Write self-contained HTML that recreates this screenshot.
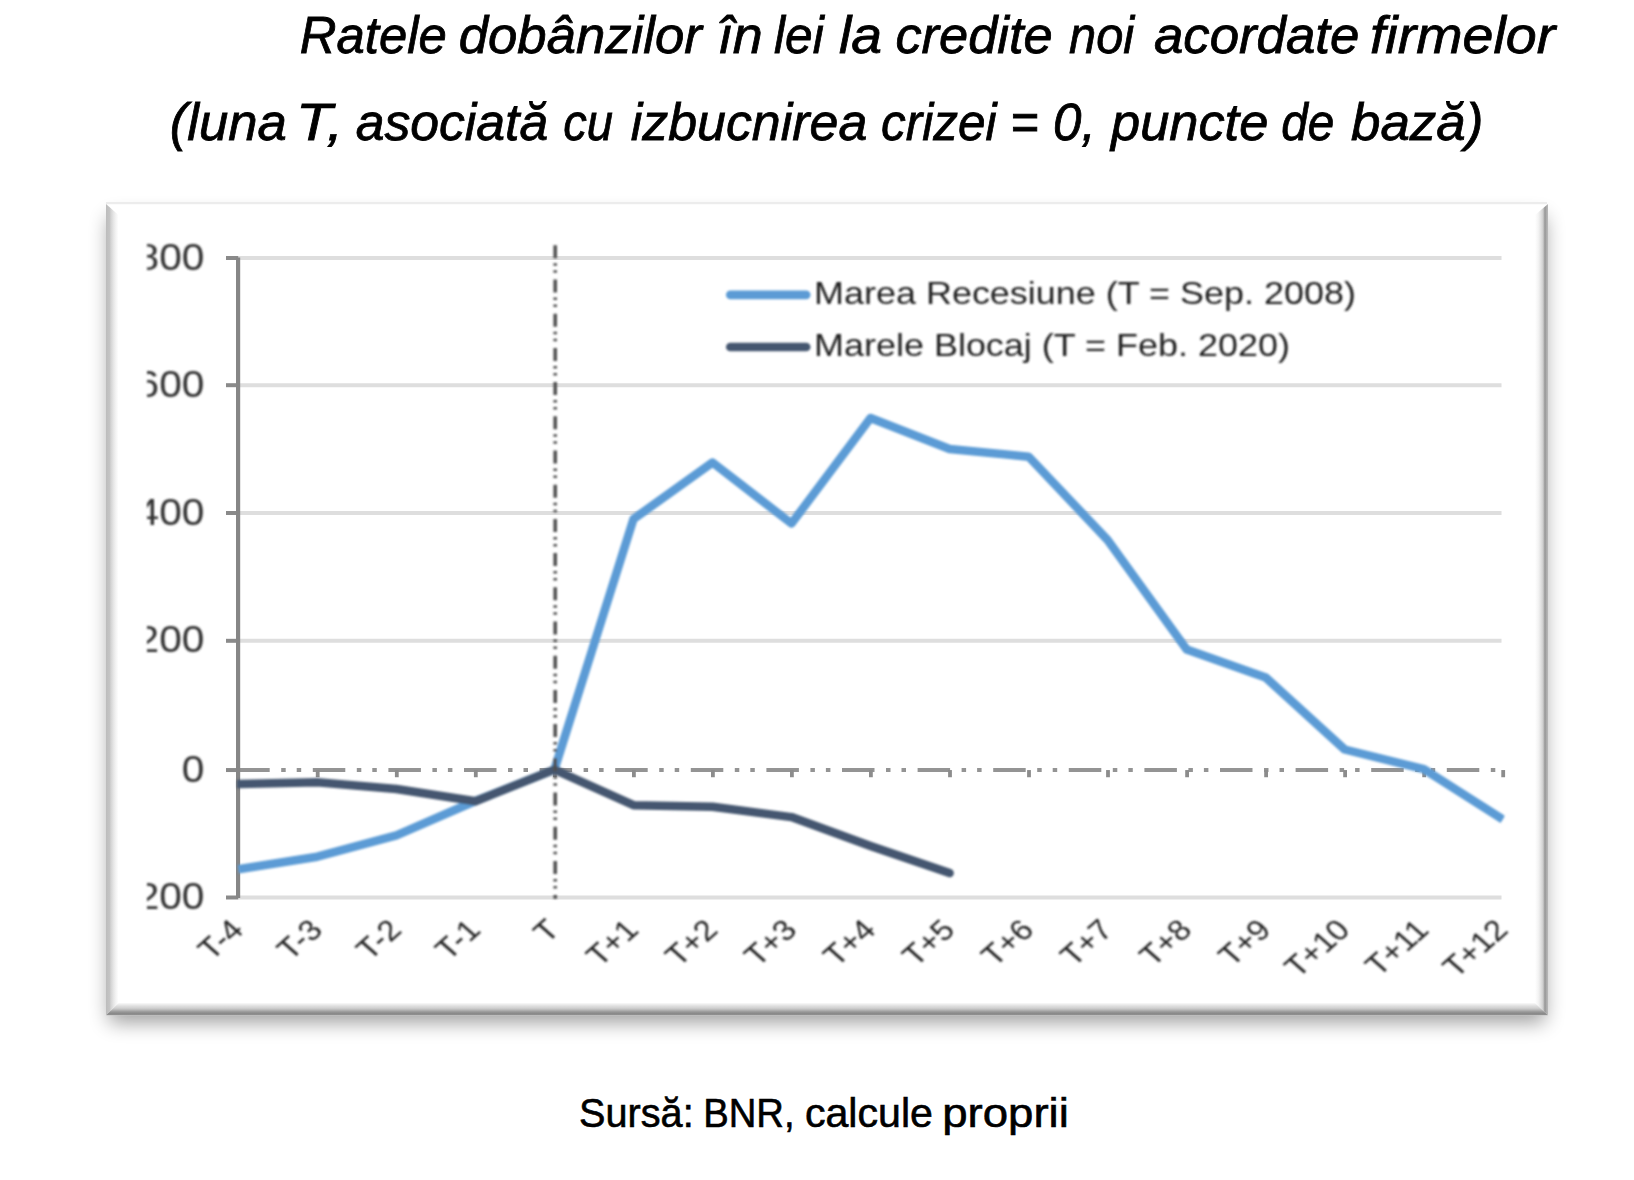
<!DOCTYPE html>
<html lang="ro">
<head>
<meta charset="utf-8">
<title>Ratele dobânzilor în lei la credite noi acordate firmelor</title>
<style>
html,body{margin:0;padding:0;background:#fff;}
body{width:1634px;height:1180px;overflow:hidden;position:relative;}
svg{position:absolute;left:0;top:0;display:block;}
.ttl{font-family:"Liberation Sans",sans-serif;font-style:italic;font-size:52.5px;fill:#000;stroke:#000;stroke-width:0.8px;}
.src{font-family:"Liberation Sans",sans-serif;font-size:40.4px;fill:#000;stroke:#000;stroke-width:0.6px;}
.ch{font-family:"Liberation Sans",sans-serif;}
</style>
</head>
<body>
<svg width="1634" height="1180" viewBox="0 0 1634 1180">
<defs>
<filter id="sh" filterUnits="userSpaceOnUse" x="0" y="0" width="1634" height="1180"><feGaussianBlur stdDeviation="10"/></filter>
<filter id="soft" filterUnits="userSpaceOnUse" x="0" y="0" width="1634" height="1180"><feGaussianBlur stdDeviation="0.8"/></filter>
<filter id="soft2" filterUnits="userSpaceOnUse" x="0" y="0" width="1634" height="1180"><feGaussianBlur stdDeviation="0.6"/></filter>
<linearGradient id="gl" x1="0" y1="0" x2="1" y2="0"><stop offset="0" stop-color="#bcbcbc"/><stop offset="0.28" stop-color="#c4c4c4"/><stop offset="0.40" stop-color="#d4d4d4"/><stop offset="0.60" stop-color="#e6e6e6"/><stop offset="0.8" stop-color="#f4f4f4"/><stop offset="1" stop-color="#ffffff"/></linearGradient>
<linearGradient id="gr" x1="0" y1="0" x2="1" y2="0"><stop offset="0" stop-color="#ffffff"/><stop offset="0.25" stop-color="#f4f4f4"/><stop offset="0.45" stop-color="#e2e2e2"/><stop offset="0.63" stop-color="#cccccc"/><stop offset="0.71" stop-color="#a4a4a4"/><stop offset="0.83" stop-color="#9c9c9c"/><stop offset="0.9" stop-color="#b0b0b0"/><stop offset="1" stop-color="#b8b8b8"/></linearGradient>
<linearGradient id="gb" x1="0" y1="0" x2="0" y2="1"><stop offset="0" stop-color="#fafafa"/><stop offset="0.085" stop-color="#f0f0f0"/><stop offset="0.25" stop-color="#dedede"/><stop offset="0.42" stop-color="#cfcfcf"/><stop offset="0.58" stop-color="#b4b4b4"/><stop offset="0.72" stop-color="#989898"/><stop offset="0.85" stop-color="#8a8a8a"/><stop offset="1" stop-color="#929292"/></linearGradient>
<clipPath id="ycl"><rect x="147" y="210" width="100" height="790"/></clipPath>
<clipPath id="pcl"><rect x="237" y="240" width="1267.5" height="670"/></clipPath>
</defs>

<text class="ttl" y="52.9"><tspan x="299.8" textLength="146.9" lengthAdjust="spacingAndGlyphs">Ratele</tspan> <tspan x="458.7" textLength="243.2" lengthAdjust="spacingAndGlyphs">dobânzilor</tspan> <tspan x="717.9" textLength="44.9" lengthAdjust="spacingAndGlyphs">în</tspan> <tspan x="774.1" textLength="49.6" lengthAdjust="spacingAndGlyphs">lei</tspan> <tspan x="838.9" textLength="43.0" lengthAdjust="spacingAndGlyphs">la</tspan> <tspan x="895.4" textLength="157.2" lengthAdjust="spacingAndGlyphs">credite</tspan> <tspan x="1069.1" textLength="65.1" lengthAdjust="spacingAndGlyphs">noi</tspan> <tspan x="1154.0" textLength="205.3" lengthAdjust="spacingAndGlyphs">acordate</tspan> <tspan x="1369.9" textLength="185.3" lengthAdjust="spacingAndGlyphs">firmelor</tspan></text>
<text class="ttl" y="140"><tspan x="169.7" textLength="117.1" lengthAdjust="spacingAndGlyphs">(luna</tspan> <tspan x="296.1" textLength="47.2" lengthAdjust="spacingAndGlyphs">T,</tspan> <tspan x="355.7" textLength="192.5" lengthAdjust="spacingAndGlyphs">asociată</tspan> <tspan x="563.2" textLength="49.8" lengthAdjust="spacingAndGlyphs">cu</tspan> <tspan x="630.7" textLength="236.6" lengthAdjust="spacingAndGlyphs">izbucnirea</tspan> <tspan x="881.1" textLength="115.5" lengthAdjust="spacingAndGlyphs">crizei</tspan> <tspan x="1010.2" textLength="28.3" lengthAdjust="spacingAndGlyphs">=</tspan> <tspan x="1053.1" textLength="42.6" lengthAdjust="spacingAndGlyphs">0,</tspan> <tspan x="1111.0" textLength="157.3" lengthAdjust="spacingAndGlyphs">puncte</tspan> <tspan x="1281.2" textLength="53.1" lengthAdjust="spacingAndGlyphs">de</tspan> <tspan x="1351.0" textLength="132.4" lengthAdjust="spacingAndGlyphs">bază)</tspan></text>
<rect x="109" y="217" width="1436" height="805.5" fill="#000" opacity="0.38" filter="url(#sh)"/>
<rect x="106" y="203.6" width="1442" height="811.7" fill="#fff"/>
<rect x="106" y="202" width="1441" height="2.2" fill="#ececec"/>
<polygon points="106,204 118.5,215 118.5,1003 106,1015.3" fill="url(#gl)"/>
<polygon points="1548,204 1535,215 1535,1003 1548,1015.3" fill="url(#gr)"/>
<polygon points="106,1015.3 118.5,1003 1535,1003 1548,1015.3" fill="url(#gb)"/>
<g class="ch">
<g filter="url(#soft2)">
<line x1="238.3" y1="258.0" x2="1501.5" y2="258.0" stroke="#dedede" stroke-width="4"/>
<line x1="238.3" y1="385.2" x2="1501.5" y2="385.2" stroke="#dedede" stroke-width="4"/>
<line x1="238.3" y1="513.0" x2="1501.5" y2="513.0" stroke="#dedede" stroke-width="4"/>
<line x1="238.3" y1="640.8" x2="1501.5" y2="640.8" stroke="#dedede" stroke-width="4"/>
<line x1="238.3" y1="897.5" x2="1501.5" y2="897.5" stroke="#dedede" stroke-width="4"/>
<line x1="226" y1="258.0" x2="238.3" y2="258.0" stroke="#8a8a8a" stroke-width="4"/>
<line x1="226" y1="385.2" x2="238.3" y2="385.2" stroke="#8a8a8a" stroke-width="4"/>
<line x1="226" y1="513.0" x2="238.3" y2="513.0" stroke="#8a8a8a" stroke-width="4"/>
<line x1="226" y1="640.8" x2="238.3" y2="640.8" stroke="#8a8a8a" stroke-width="4"/>
<line x1="226" y1="770.05" x2="238.3" y2="770.05" stroke="#8a8a8a" stroke-width="4"/>
<line x1="226" y1="897.5" x2="238.3" y2="897.5" stroke="#8a8a8a" stroke-width="4"/>
<line x1="237.2" y1="770.05" x2="1503" y2="770.05" stroke="#949494" stroke-width="4" stroke-dasharray="32.5 11.5 4.5 11 4.5 11.6"/>
<line x1="317.7" y1="770.05" x2="317.7" y2="777.25" stroke="#8c8c8c" stroke-width="3.8"/>
<line x1="396.8" y1="770.05" x2="396.8" y2="777.25" stroke="#8c8c8c" stroke-width="3.8"/>
<line x1="475.8" y1="770.05" x2="475.8" y2="777.25" stroke="#8c8c8c" stroke-width="3.8"/>
<line x1="554.8" y1="770.05" x2="554.8" y2="777.25" stroke="#8c8c8c" stroke-width="3.8"/>
<line x1="633.9" y1="770.05" x2="633.9" y2="777.25" stroke="#8c8c8c" stroke-width="3.8"/>
<line x1="712.9" y1="770.05" x2="712.9" y2="777.25" stroke="#8c8c8c" stroke-width="3.8"/>
<line x1="791.9" y1="770.05" x2="791.9" y2="777.25" stroke="#8c8c8c" stroke-width="3.8"/>
<line x1="870.9" y1="770.05" x2="870.9" y2="777.25" stroke="#8c8c8c" stroke-width="3.8"/>
<line x1="950.0" y1="770.05" x2="950.0" y2="777.25" stroke="#8c8c8c" stroke-width="3.8"/>
<line x1="1029.0" y1="770.05" x2="1029.0" y2="777.25" stroke="#8c8c8c" stroke-width="3.8"/>
<line x1="1108.0" y1="770.05" x2="1108.0" y2="777.25" stroke="#8c8c8c" stroke-width="3.8"/>
<line x1="1187.1" y1="770.05" x2="1187.1" y2="777.25" stroke="#8c8c8c" stroke-width="3.8"/>
<line x1="1266.1" y1="770.05" x2="1266.1" y2="777.25" stroke="#8c8c8c" stroke-width="3.8"/>
<line x1="1345.1" y1="770.05" x2="1345.1" y2="777.25" stroke="#8c8c8c" stroke-width="3.8"/>
<line x1="1424.2" y1="770.05" x2="1424.2" y2="777.25" stroke="#8c8c8c" stroke-width="3.8"/>
<line x1="1503.2" y1="770.05" x2="1503.2" y2="777.25" stroke="#8c8c8c" stroke-width="3.8"/>
<line x1="238.10000000000002" y1="257.5" x2="238.10000000000002" y2="898.0" stroke="#868686" stroke-width="4.2"/>
</g>
<g filter="url(#soft)">
<g clip-path="url(#pcl)"><polyline points="238.3,869.3 317.3,856.7 396.4,835.4 475.4,801 554.4,769.6 633.5,519 712.5,462.5 791.5,523.5 870.5,418 949.6,449 1028.6,456.7 1107.6,540 1186.7,649.5 1265.7,677.5 1344.7,749.5 1423.8,769.2 1502.8,819.5" fill="none" stroke="#5b9bd5" stroke-width="8.5" stroke-linejoin="round" stroke-linecap="butt"/></g>
<g clip-path="url(#pcl)"><polyline points="238.3,784 317.3,782.2 396.4,789 475.4,801.3 554.4,769.6 633.5,805.2 712.5,806.7 791.5,817.1 870.5,846 949.6,873.1" fill="none" stroke="#455670" stroke-width="8.5" stroke-linejoin="round" stroke-linecap="round"/></g>
<g filter="url(#soft2)">
<line x1="555.2" y1="245.3" x2="555.2" y2="898.8" stroke="#505050" stroke-width="3.6" stroke-dasharray="13 5 2.5 4.5 2.5 6.7"/>
</g>
<line x1="730.3" y1="294.8" x2="806.2" y2="294.8" stroke="#5b9bd5" stroke-width="8.7" stroke-linecap="round"/>
<line x1="730.3" y1="347" x2="806.2" y2="347" stroke="#455670" stroke-width="8.7" stroke-linecap="round"/>
<text transform="translate(814,304) scale(1.142,1)" font-size="31.5" fill="#202020">Marea Recesiune (T = Sep. 2008)</text>
<text transform="translate(814,356.4) scale(1.142,1)" font-size="31.5" fill="#202020">Marele Blocaj (T = Feb. 2020)</text>
<g clip-path="url(#ycl)">
<text transform="translate(204.5,269.6) scale(1.13,1)" font-size="36" text-anchor="end" fill="#303030">800</text>
<text transform="translate(204.5,396.8) scale(1.13,1)" font-size="36" text-anchor="end" fill="#303030">600</text>
<text transform="translate(204.5,524.6) scale(1.13,1)" font-size="36" text-anchor="end" fill="#303030">400</text>
<text transform="translate(204.5,652.4) scale(1.13,1)" font-size="36" text-anchor="end" fill="#303030">200</text>
<text transform="translate(204.5,781.6) scale(1.13,1)" font-size="36" text-anchor="end" fill="#303030">0</text>
<text transform="translate(204.5,909.1) scale(1.13,1)" font-size="36" text-anchor="end" fill="#303030">-200</text>
</g>
<text transform="translate(245.1,931.5) scale(1.13,1) rotate(-45)" font-size="29" text-anchor="end" fill="#222">T-4</text>
<text transform="translate(324.1,931.5) scale(1.13,1) rotate(-45)" font-size="29" text-anchor="end" fill="#222">T-3</text>
<text transform="translate(403.2,931.5) scale(1.13,1) rotate(-45)" font-size="29" text-anchor="end" fill="#222">T-2</text>
<text transform="translate(482.2,931.5) scale(1.13,1) rotate(-45)" font-size="29" text-anchor="end" fill="#222">T-1</text>
<text transform="translate(561.2,931.5) scale(1.13,1) rotate(-45)" font-size="29" text-anchor="end" fill="#222">T</text>
<text transform="translate(640.2,931.5) scale(1.13,1) rotate(-45)" font-size="29" text-anchor="end" fill="#222">T+1</text>
<text transform="translate(719.3,931.5) scale(1.13,1) rotate(-45)" font-size="29" text-anchor="end" fill="#222">T+2</text>
<text transform="translate(798.3,931.5) scale(1.13,1) rotate(-45)" font-size="29" text-anchor="end" fill="#222">T+3</text>
<text transform="translate(877.3,931.5) scale(1.13,1) rotate(-45)" font-size="29" text-anchor="end" fill="#222">T+4</text>
<text transform="translate(956.4,931.5) scale(1.13,1) rotate(-45)" font-size="29" text-anchor="end" fill="#222">T+5</text>
<text transform="translate(1035.4,931.5) scale(1.13,1) rotate(-45)" font-size="29" text-anchor="end" fill="#222">T+6</text>
<text transform="translate(1114.4,931.5) scale(1.13,1) rotate(-45)" font-size="29" text-anchor="end" fill="#222">T+7</text>
<text transform="translate(1193.5,931.5) scale(1.13,1) rotate(-45)" font-size="29" text-anchor="end" fill="#222">T+8</text>
<text transform="translate(1272.5,931.5) scale(1.13,1) rotate(-45)" font-size="29" text-anchor="end" fill="#222">T+9</text>
<text transform="translate(1351.5,931.5) scale(1.13,1) rotate(-45)" font-size="29" text-anchor="end" fill="#222">T+10</text>
<text transform="translate(1430.5,931.5) scale(1.13,1) rotate(-45)" font-size="29" text-anchor="end" fill="#222">T+11</text>
<text transform="translate(1509.6,931.5) scale(1.13,1) rotate(-45)" font-size="29" text-anchor="end" fill="#222">T+12</text>
</g>
</g>
<text class="src" y="1127.3"><tspan x="579.1" textLength="114.6" lengthAdjust="spacingAndGlyphs">Sursă:</tspan> <tspan x="703.2" textLength="91.4" lengthAdjust="spacingAndGlyphs">BNR,</tspan> <tspan x="804.9" textLength="128.0" lengthAdjust="spacingAndGlyphs">calcule</tspan> <tspan x="942.2" textLength="126.7" lengthAdjust="spacingAndGlyphs">proprii</tspan></text>
</svg>
</body>
</html>
